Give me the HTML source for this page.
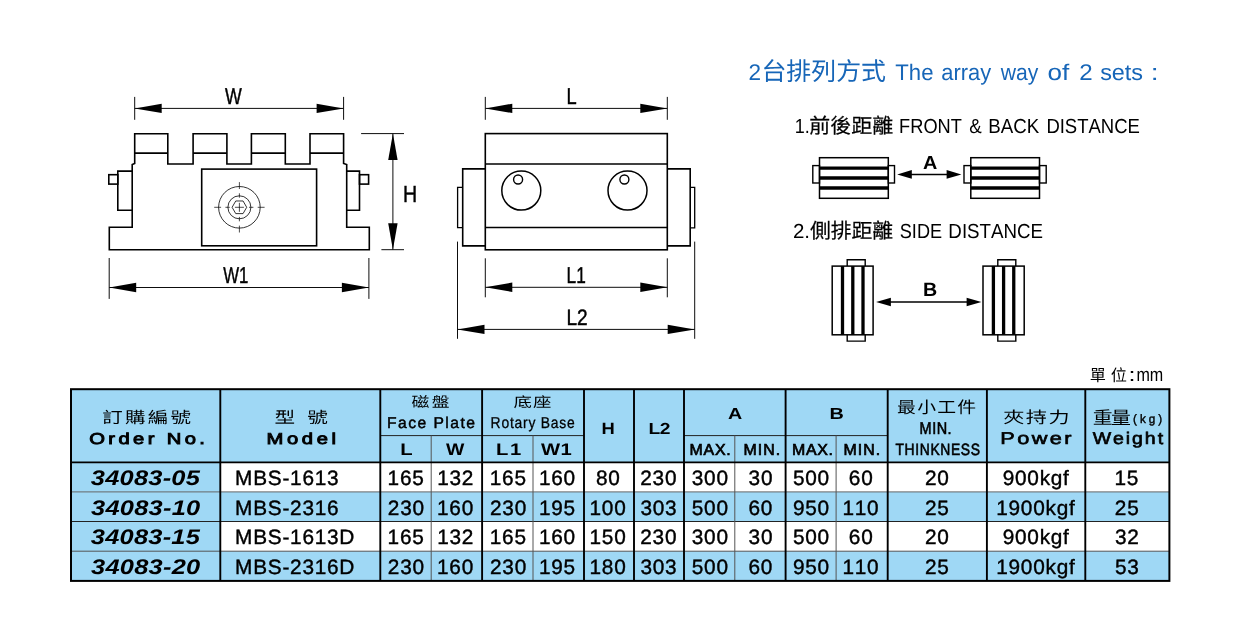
<!DOCTYPE html>
<html lang="zh-Hant">
<head>
<meta charset="utf-8">
<title>MBS Magnetic Base Specification</title>
<style>
html,body{margin:0;padding:0;background:#fff;}
body{width:1240px;height:640px;overflow:hidden;font-family:"Liberation Sans","Noto Sans CJK TC",sans-serif;}
svg{will-change:transform;}
svg text{white-space:pre;font-kerning:none;text-rendering:geometricPrecision;}
</style>
</head>
<body>
<svg width="1240" height="640" viewBox="0 0 1240 640" style="display:block">
<rect width="1240" height="640" fill="#fff"/>
<g id="table">
<rect x="71.00" y="389.20" width="1098.40" height="73.20" fill="#9fd8f5"/>
<rect x="71.00" y="462.40" width="149.30" height="118.50" fill="#9fd8f5"/>
<rect x="71.00" y="491.90" width="1098.40" height="29.60" fill="#9fd8f5"/>
<rect x="71.00" y="551.20" width="1098.40" height="29.70" fill="#9fd8f5"/>
<line x1="71.00" y1="491.90" x2="1169.40" y2="491.90" stroke="#666" stroke-width="1.0" />
<line x1="71.00" y1="521.50" x2="1169.40" y2="521.50" stroke="#222" stroke-width="1.0" />
<line x1="71.00" y1="551.20" x2="1169.40" y2="551.20" stroke="#555" stroke-width="1.0" />
<line x1="380.30" y1="435.60" x2="584.00" y2="435.60" stroke="#222" stroke-width="1.0" />
<line x1="684.00" y1="435.60" x2="887.70" y2="435.60" stroke="#222" stroke-width="1.0" />
<line x1="431.20" y1="435.60" x2="431.20" y2="580.90" stroke="#555" stroke-width="1.0" />
<line x1="533.00" y1="435.60" x2="533.00" y2="580.90" stroke="#555" stroke-width="1.0" />
<line x1="734.80" y1="435.60" x2="734.80" y2="580.90" stroke="#555" stroke-width="1.0" />
<line x1="836.10" y1="435.60" x2="836.10" y2="580.90" stroke="#555" stroke-width="1.0" />
<line x1="220.30" y1="389.20" x2="220.30" y2="580.90" stroke="#000" stroke-width="1.9" />
<line x1="380.30" y1="389.20" x2="380.30" y2="580.90" stroke="#000" stroke-width="1.9" />
<line x1="482.10" y1="389.20" x2="482.10" y2="580.90" stroke="#000" stroke-width="1.9" />
<line x1="584.00" y1="389.20" x2="584.00" y2="580.90" stroke="#000" stroke-width="1.9" />
<line x1="634.00" y1="389.20" x2="634.00" y2="580.90" stroke="#000" stroke-width="1.9" />
<line x1="684.00" y1="389.20" x2="684.00" y2="580.90" stroke="#000" stroke-width="1.9" />
<line x1="785.60" y1="389.20" x2="785.60" y2="580.90" stroke="#000" stroke-width="1.9" />
<line x1="887.70" y1="389.20" x2="887.70" y2="580.90" stroke="#000" stroke-width="1.9" />
<line x1="986.90" y1="389.20" x2="986.90" y2="580.90" stroke="#000" stroke-width="1.9" />
<line x1="1085.30" y1="389.20" x2="1085.30" y2="580.90" stroke="#000" stroke-width="1.9" />
<line x1="71.00" y1="462.40" x2="1169.40" y2="462.40" stroke="#000" stroke-width="1.9" />
<rect x="71.00" y="389.20" width="1098.40" height="191.70" stroke="#000" stroke-width="2.0" fill="none"/>
<text transform="translate(102.24 423.12) scale(1.3000 1)" font-family="'Liberation Sans','Noto Sans CJK TC',sans-serif" font-size="15.78" letter-spacing="1.709">訂購編號</text>
<text transform="translate(89.29 444.00) scale(1.2800 1)" font-family="'Liberation Sans',sans-serif" font-size="15.77" letter-spacing="2.635" stroke="#000" stroke-width="0.9">Order No.</text>
<text transform="translate(274.53 423.12) scale(1.3000 1)" font-family="'Liberation Sans','Noto Sans CJK TC',sans-serif" font-size="15.85" letter-spacing="2.468">型 號</text>
<text transform="translate(266.49 444.00) scale(1.2800 1)" font-family="'Liberation Sans',sans-serif" font-size="15.77" letter-spacing="2.857" stroke="#000" stroke-width="0.9">Model</text>
<text transform="translate(411.44 407.30) scale(1.2500 1)" font-family="'Liberation Sans','Noto Sans CJK TC',sans-serif" font-size="14.25" letter-spacing="1.930">磁盤</text>
<text x="386.94" y="428.00" font-family="'Liberation Sans',sans-serif" font-size="15.66" letter-spacing="1.463" stroke="#000" stroke-width="0.45">Face Plate</text>
<text transform="translate(513.43 407.04) scale(1.3300 1)" font-family="'Liberation Sans','Noto Sans CJK TC',sans-serif" font-size="13.86" letter-spacing="0.887">底座</text>
<text transform="translate(490.61 428.00) scale(0.8800 1)" font-family="'Liberation Sans',sans-serif" font-size="15.77" letter-spacing="0.886" stroke="#000" stroke-width="0.3">Rotary Base</text>
<text transform="translate(400.14 455.00) scale(1.2019 1)" font-family="'Liberation Sans',sans-serif" font-size="16.86" font-weight="bold">L</text>
<text transform="translate(446.08 455.00) scale(1.1523 1)" font-family="'Liberation Sans',sans-serif" font-size="16.86" font-weight="bold">W</text>
<text transform="translate(496.05 455.00) scale(1.2000 1)" font-family="'Liberation Sans',sans-serif" font-size="16.86" font-weight="bold" letter-spacing="1.421">L1</text>
<text transform="translate(540.98 455.00) scale(1.2000 1)" font-family="'Liberation Sans',sans-serif" font-size="16.86" font-weight="bold" letter-spacing="0.445">W1</text>
<text transform="translate(601.47 433.50) scale(1.1285 1)" font-family="'Liberation Sans',sans-serif" font-size="16.28" font-weight="bold">H</text>
<text transform="translate(648.51 433.50) scale(1.2000 1)" font-family="'Liberation Sans',sans-serif" font-size="16.04" font-weight="bold" letter-spacing="-0.420">L2</text>
<text transform="translate(727.91 418.70) scale(1.2306 1)" font-family="'Liberation Sans',sans-serif" font-size="15.99" font-weight="bold">A</text>
<text transform="translate(829.47 418.70) scale(1.2409 1)" font-family="'Liberation Sans',sans-serif" font-size="15.99" font-weight="bold">B</text>
<text x="689.54" y="454.70" font-family="'Liberation Sans',sans-serif" font-size="15.92" letter-spacing="0.782" stroke="#000" stroke-width="0.7">MAX.</text>
<text x="743.54" y="454.70" font-family="'Liberation Sans',sans-serif" font-size="15.92" letter-spacing="1.054" stroke="#000" stroke-width="0.7">MIN.</text>
<text x="791.94" y="454.70" font-family="'Liberation Sans',sans-serif" font-size="15.92" letter-spacing="0.716" stroke="#000" stroke-width="0.7">MAX.</text>
<text x="843.54" y="454.70" font-family="'Liberation Sans',sans-serif" font-size="15.92" letter-spacing="1.054" stroke="#000" stroke-width="0.7">MIN.</text>
<text transform="translate(897.07 413.39) scale(1.1500 1)" font-family="'Liberation Sans','Noto Sans CJK TC',sans-serif" font-size="16.37" letter-spacing="1.103">最小工件</text>
<text transform="translate(919.61 434.00) scale(0.8500 1)" font-family="'Liberation Sans',sans-serif" font-size="17.01" letter-spacing="0.586" stroke="#000" stroke-width="0.6">MIN.</text>
<text transform="translate(895.49 455.00) scale(0.8500 1)" font-family="'Liberation Sans',sans-serif" font-size="16.33" letter-spacing="0.739" stroke="#000" stroke-width="0.6">THINKNESS</text>
<text transform="translate(1003.15 423.33) scale(1.3000 1)" font-family="'Liberation Sans','Noto Sans CJK TC',sans-serif" font-size="16.25" letter-spacing="1.204">夾持力</text>
<text transform="translate(1000.24 444.00) scale(1.2800 1)" font-family="'Liberation Sans',sans-serif" font-size="16.97" letter-spacing="1.919" stroke="#000" stroke-width="0.65">Power</text>
<text transform="translate(1092.76 424.02) scale(1.1200 1)" font-family="'Liberation Sans','Noto Sans CJK TC',sans-serif" font-size="17.77" letter-spacing="-1.500">重量</text>
<text transform="translate(1132.98 422.50) scale(0.9500 1)" font-family="'Liberation Sans',sans-serif" font-size="12.30" letter-spacing="3.202" stroke="#000" stroke-width="0.4">(kg)</text>
<text transform="translate(1092.74 444.00) scale(1.1500 1)" font-family="'Liberation Sans',sans-serif" font-size="16.97" letter-spacing="1.677" stroke="#000" stroke-width="0.65">Weight</text>
<text x="1089.66" y="381.21" font-family="'Liberation Sans','Noto Sans CJK TC',sans-serif" font-size="16.18" letter-spacing="4.904">單位</text>
<text transform="translate(1128.60 380.60) scale(1.3266 1)" font-family="'Liberation Sans',sans-serif" font-size="19.00">:</text>
<text transform="translate(1136.43 380.60) scale(0.8476 1)" font-family="'Liberation Sans',sans-serif" font-size="19.00">mm</text>
<text transform="translate(90.76 485.00) scale(1.2000 1)" font-family="'Liberation Sans',sans-serif" font-size="21.20" font-weight="bold" font-style="italic" letter-spacing="0.200">34083-05</text>
<text x="235.09" y="485.00" font-family="'Liberation Sans',sans-serif" font-size="20.80" letter-spacing="0.750" stroke="#000" stroke-width="0.4">MBS-1613</text>
<text x="387.59" y="485.00" font-family="'Liberation Sans',sans-serif" font-size="20.80" letter-spacing="0.750" stroke="#000" stroke-width="0.4">165</text>
<text x="437.18" y="485.00" font-family="'Liberation Sans',sans-serif" font-size="20.80" letter-spacing="0.750" stroke="#000" stroke-width="0.4">132</text>
<text x="489.79" y="485.00" font-family="'Liberation Sans',sans-serif" font-size="20.80" letter-spacing="0.750" stroke="#000" stroke-width="0.4">165</text>
<text x="538.96" y="485.00" font-family="'Liberation Sans',sans-serif" font-size="20.80" letter-spacing="0.750" stroke="#000" stroke-width="0.4">160</text>
<text x="596.01" y="485.00" font-family="'Liberation Sans',sans-serif" font-size="20.80" letter-spacing="0.750" stroke="#000" stroke-width="0.4">80</text>
<text x="640.28" y="485.00" font-family="'Liberation Sans',sans-serif" font-size="20.80" letter-spacing="0.750" stroke="#000" stroke-width="0.4">230</text>
<text x="691.81" y="485.00" font-family="'Liberation Sans',sans-serif" font-size="20.80" letter-spacing="0.750" stroke="#000" stroke-width="0.4">300</text>
<text x="748.57" y="485.00" font-family="'Liberation Sans',sans-serif" font-size="20.80" letter-spacing="0.750" stroke="#000" stroke-width="0.4">30</text>
<text x="792.99" y="485.00" font-family="'Liberation Sans',sans-serif" font-size="20.80" letter-spacing="0.750" stroke="#000" stroke-width="0.4">500</text>
<text x="848.84" y="485.00" font-family="'Liberation Sans',sans-serif" font-size="20.80" letter-spacing="0.750" stroke="#000" stroke-width="0.4">60</text>
<text x="924.94" y="485.00" font-family="'Liberation Sans',sans-serif" font-size="20.80" letter-spacing="0.750" stroke="#000" stroke-width="0.4">20</text>
<text x="1002.70" y="485.00" font-family="'Liberation Sans',sans-serif" font-size="20.80" letter-spacing="0.750" stroke="#000" stroke-width="0.4">900kgf</text>
<text x="1114.55" y="485.00" font-family="'Liberation Sans',sans-serif" font-size="20.80" letter-spacing="0.750" stroke="#000" stroke-width="0.4">15</text>
<text transform="translate(91.03 515.00) scale(1.2000 1)" font-family="'Liberation Sans',sans-serif" font-size="21.20" font-weight="bold" font-style="italic" letter-spacing="0.200">34083-10</text>
<text x="235.09" y="515.00" font-family="'Liberation Sans',sans-serif" font-size="20.80" letter-spacing="0.750" stroke="#000" stroke-width="0.4">MBS-2316</text>
<text x="387.83" y="515.00" font-family="'Liberation Sans',sans-serif" font-size="20.80" letter-spacing="0.750" stroke="#000" stroke-width="0.4">230</text>
<text x="437.06" y="515.00" font-family="'Liberation Sans',sans-serif" font-size="20.80" letter-spacing="0.750" stroke="#000" stroke-width="0.4">160</text>
<text x="490.03" y="515.00" font-family="'Liberation Sans',sans-serif" font-size="20.80" letter-spacing="0.750" stroke="#000" stroke-width="0.4">230</text>
<text x="538.99" y="515.00" font-family="'Liberation Sans',sans-serif" font-size="20.80" letter-spacing="0.750" stroke="#000" stroke-width="0.4">195</text>
<text x="589.51" y="515.00" font-family="'Liberation Sans',sans-serif" font-size="20.80" letter-spacing="0.750" stroke="#000" stroke-width="0.4">100</text>
<text x="640.46" y="515.00" font-family="'Liberation Sans',sans-serif" font-size="20.80" letter-spacing="0.750" stroke="#000" stroke-width="0.4">303</text>
<text x="691.79" y="515.00" font-family="'Liberation Sans',sans-serif" font-size="20.80" letter-spacing="0.750" stroke="#000" stroke-width="0.4">500</text>
<text x="748.44" y="515.00" font-family="'Liberation Sans',sans-serif" font-size="20.80" letter-spacing="0.750" stroke="#000" stroke-width="0.4">60</text>
<text x="792.92" y="515.00" font-family="'Liberation Sans',sans-serif" font-size="20.80" letter-spacing="0.750" stroke="#000" stroke-width="0.4">950</text>
<text x="842.41" y="515.00" font-family="'Liberation Sans',sans-serif" font-size="20.80" letter-spacing="0.750" stroke="#000" stroke-width="0.4">110</text>
<text x="924.97" y="515.00" font-family="'Liberation Sans',sans-serif" font-size="20.80" letter-spacing="0.750" stroke="#000" stroke-width="0.4">25</text>
<text x="996.23" y="515.00" font-family="'Liberation Sans',sans-serif" font-size="20.80" letter-spacing="0.750" stroke="#000" stroke-width="0.4">1900kgf</text>
<text x="1114.82" y="515.00" font-family="'Liberation Sans',sans-serif" font-size="20.80" letter-spacing="0.750" stroke="#000" stroke-width="0.4">25</text>
<text transform="translate(90.76 544.00) scale(1.2000 1)" font-family="'Liberation Sans',sans-serif" font-size="21.20" font-weight="bold" font-style="italic" letter-spacing="0.200">34083-15</text>
<text x="235.09" y="544.00" font-family="'Liberation Sans',sans-serif" font-size="20.80" letter-spacing="0.750" stroke="#000" stroke-width="0.4">MBS-1613D</text>
<text x="387.59" y="544.00" font-family="'Liberation Sans',sans-serif" font-size="20.80" letter-spacing="0.750" stroke="#000" stroke-width="0.4">165</text>
<text x="437.18" y="544.00" font-family="'Liberation Sans',sans-serif" font-size="20.80" letter-spacing="0.750" stroke="#000" stroke-width="0.4">132</text>
<text x="489.79" y="544.00" font-family="'Liberation Sans',sans-serif" font-size="20.80" letter-spacing="0.750" stroke="#000" stroke-width="0.4">165</text>
<text x="538.96" y="544.00" font-family="'Liberation Sans',sans-serif" font-size="20.80" letter-spacing="0.750" stroke="#000" stroke-width="0.4">160</text>
<text x="589.51" y="544.00" font-family="'Liberation Sans',sans-serif" font-size="20.80" letter-spacing="0.750" stroke="#000" stroke-width="0.4">150</text>
<text x="640.28" y="544.00" font-family="'Liberation Sans',sans-serif" font-size="20.80" letter-spacing="0.750" stroke="#000" stroke-width="0.4">230</text>
<text x="691.81" y="544.00" font-family="'Liberation Sans',sans-serif" font-size="20.80" letter-spacing="0.750" stroke="#000" stroke-width="0.4">300</text>
<text x="748.57" y="544.00" font-family="'Liberation Sans',sans-serif" font-size="20.80" letter-spacing="0.750" stroke="#000" stroke-width="0.4">30</text>
<text x="792.99" y="544.00" font-family="'Liberation Sans',sans-serif" font-size="20.80" letter-spacing="0.750" stroke="#000" stroke-width="0.4">500</text>
<text x="848.84" y="544.00" font-family="'Liberation Sans',sans-serif" font-size="20.80" letter-spacing="0.750" stroke="#000" stroke-width="0.4">60</text>
<text x="924.94" y="544.00" font-family="'Liberation Sans',sans-serif" font-size="20.80" letter-spacing="0.750" stroke="#000" stroke-width="0.4">20</text>
<text x="1002.70" y="544.00" font-family="'Liberation Sans',sans-serif" font-size="20.80" letter-spacing="0.750" stroke="#000" stroke-width="0.4">900kgf</text>
<text x="1115.03" y="544.00" font-family="'Liberation Sans',sans-serif" font-size="20.80" letter-spacing="0.750" stroke="#000" stroke-width="0.4">32</text>
<text transform="translate(91.03 574.00) scale(1.2000 1)" font-family="'Liberation Sans',sans-serif" font-size="21.20" font-weight="bold" font-style="italic" letter-spacing="0.200">34083-20</text>
<text x="235.09" y="574.00" font-family="'Liberation Sans',sans-serif" font-size="20.80" letter-spacing="0.750" stroke="#000" stroke-width="0.4">MBS-2316D</text>
<text x="387.83" y="574.00" font-family="'Liberation Sans',sans-serif" font-size="20.80" letter-spacing="0.750" stroke="#000" stroke-width="0.4">230</text>
<text x="437.06" y="574.00" font-family="'Liberation Sans',sans-serif" font-size="20.80" letter-spacing="0.750" stroke="#000" stroke-width="0.4">160</text>
<text x="490.03" y="574.00" font-family="'Liberation Sans',sans-serif" font-size="20.80" letter-spacing="0.750" stroke="#000" stroke-width="0.4">230</text>
<text x="538.99" y="574.00" font-family="'Liberation Sans',sans-serif" font-size="20.80" letter-spacing="0.750" stroke="#000" stroke-width="0.4">195</text>
<text x="589.51" y="574.00" font-family="'Liberation Sans',sans-serif" font-size="20.80" letter-spacing="0.750" stroke="#000" stroke-width="0.4">180</text>
<text x="640.46" y="574.00" font-family="'Liberation Sans',sans-serif" font-size="20.80" letter-spacing="0.750" stroke="#000" stroke-width="0.4">303</text>
<text x="691.79" y="574.00" font-family="'Liberation Sans',sans-serif" font-size="20.80" letter-spacing="0.750" stroke="#000" stroke-width="0.4">500</text>
<text x="748.44" y="574.00" font-family="'Liberation Sans',sans-serif" font-size="20.80" letter-spacing="0.750" stroke="#000" stroke-width="0.4">60</text>
<text x="792.92" y="574.00" font-family="'Liberation Sans',sans-serif" font-size="20.80" letter-spacing="0.750" stroke="#000" stroke-width="0.4">950</text>
<text x="842.41" y="574.00" font-family="'Liberation Sans',sans-serif" font-size="20.80" letter-spacing="0.750" stroke="#000" stroke-width="0.4">110</text>
<text x="924.97" y="574.00" font-family="'Liberation Sans',sans-serif" font-size="20.80" letter-spacing="0.750" stroke="#000" stroke-width="0.4">25</text>
<text x="996.23" y="574.00" font-family="'Liberation Sans',sans-serif" font-size="20.80" letter-spacing="0.750" stroke="#000" stroke-width="0.4">1900kgf</text>
<text x="1114.95" y="574.00" font-family="'Liberation Sans',sans-serif" font-size="20.80" letter-spacing="0.750" stroke="#000" stroke-width="0.4">53</text>
</g>
<g id="front-view">
<line x1="134.70" y1="96.90" x2="134.70" y2="119.80" stroke="#0d0d0d" stroke-width="1.0" />
<line x1="343.60" y1="96.90" x2="343.60" y2="119.80" stroke="#0d0d0d" stroke-width="1.0" />
<line x1="134.70" y1="108.40" x2="343.60" y2="108.40" stroke="#0d0d0d" stroke-width="1.0" />
<path d="M134.70 108.40 L161.70 103.70 L161.70 113.10 Z" fill="#000"/>
<path d="M343.60 108.40 L316.60 113.10 L316.60 103.70 Z" fill="#000"/>
<path d="M109.30 249.70 L109.30 227.30 L132.20 227.30 L132.20 164.60 L134.70 163.40 L134.70 133.70 L167.80 133.70 L167.80 164.00 L193.10 164.00 L193.10 133.70 L226.90 133.70 L226.90 164.00 L251.40 164.00 L251.40 133.70 L285.30 133.70 L285.30 164.00 L310.00 164.00 L310.00 133.70 L343.60 133.70 L343.60 163.40 L346.70 164.60 L346.70 227.30 L369.30 227.30 L369.30 249.70 Z" stroke="#000" stroke-width="1.6" fill="none" stroke-linejoin="miter"/>
<line x1="134.70" y1="153.10" x2="167.80" y2="153.10" stroke="#000" stroke-width="1.6" />
<line x1="193.10" y1="153.10" x2="226.90" y2="153.10" stroke="#000" stroke-width="1.6" />
<line x1="251.40" y1="153.10" x2="285.30" y2="153.10" stroke="#000" stroke-width="1.6" />
<line x1="310.00" y1="153.10" x2="343.60" y2="153.10" stroke="#000" stroke-width="1.6" />
<path d="M132.20 171.10 L117.80 171.10 L117.80 210.20 L132.20 210.20" stroke="#000" stroke-width="1.6" fill="none" stroke-linejoin="miter"/>
<rect x="108.80" y="174.70" width="9.00" height="9.40" stroke="#000" stroke-width="1.6" fill="none"/>
<path d="M346.70 171.10 L359.50 171.10 L359.50 210.20 L346.70 210.20" stroke="#000" stroke-width="1.6" fill="none" stroke-linejoin="miter"/>
<rect x="359.50" y="174.70" width="9.10" height="9.40" stroke="#000" stroke-width="1.6" fill="none"/>
<rect x="201.70" y="169.10" width="114.90" height="76.70" stroke="#000" stroke-width="1.6" fill="none"/>
<circle cx="239.40" cy="207.30" r="20.80" stroke="#000" stroke-width="0.8" fill="none"/>
<circle cx="239.40" cy="207.30" r="11.50" stroke="#000" stroke-width="0.8" fill="none"/>
<path d="M246.70 207.30 L243.05 213.62 L235.75 213.62 L232.10 207.30 L235.75 200.98 L243.05 200.98 Z" stroke="#000" stroke-width="0.8" fill="none" stroke-linejoin="miter"/>
<line x1="214.20" y1="207.30" x2="221.10" y2="207.30" stroke="#000" stroke-width="0.7" />
<line x1="239.40" y1="182.10" x2="239.40" y2="189.00" stroke="#000" stroke-width="0.7" />
<line x1="225.40" y1="207.30" x2="229.80" y2="207.30" stroke="#000" stroke-width="0.7" />
<line x1="239.40" y1="193.30" x2="239.40" y2="197.70" stroke="#000" stroke-width="0.7" />
<line x1="234.90" y1="207.30" x2="243.90" y2="207.30" stroke="#000" stroke-width="0.7" />
<line x1="239.40" y1="202.80" x2="239.40" y2="211.80" stroke="#000" stroke-width="0.7" />
<line x1="249.00" y1="207.30" x2="253.40" y2="207.30" stroke="#000" stroke-width="0.7" />
<line x1="239.40" y1="216.90" x2="239.40" y2="221.30" stroke="#000" stroke-width="0.7" />
<line x1="257.70" y1="207.30" x2="264.60" y2="207.30" stroke="#000" stroke-width="0.7" />
<line x1="239.40" y1="225.60" x2="239.40" y2="232.50" stroke="#000" stroke-width="0.7" />
<line x1="361.10" y1="133.60" x2="404.00" y2="133.60" stroke="#0d0d0d" stroke-width="1.0" />
<line x1="381.40" y1="249.70" x2="404.00" y2="249.70" stroke="#0d0d0d" stroke-width="1.0" />
<line x1="392.90" y1="133.60" x2="392.90" y2="249.70" stroke="#0d0d0d" stroke-width="1.0" />
<path d="M392.90 133.60 L397.60 160.10 L388.20 160.10 Z" fill="#000"/>
<path d="M392.90 249.70 L388.20 223.20 L397.60 223.20 Z" fill="#000"/>
<line x1="109.20" y1="258.00" x2="109.20" y2="298.90" stroke="#0d0d0d" stroke-width="1.0" />
<line x1="368.90" y1="258.00" x2="368.90" y2="298.90" stroke="#0d0d0d" stroke-width="1.0" />
<line x1="109.20" y1="287.50" x2="368.90" y2="287.50" stroke="#0d0d0d" stroke-width="1.0" />
<path d="M109.20 287.50 L136.20 282.80 L136.20 292.20 Z" fill="#000"/>
<path d="M368.90 287.50 L341.90 292.20 L341.90 282.80 Z" fill="#000"/>
<text transform="translate(224.95 104.00) scale(0.7758 1)" font-family="'Liberation Sans',sans-serif" font-size="22.93" stroke="#000" stroke-width="0.45">W</text>
<text transform="translate(402.92 202.00) scale(0.8442 1)" font-family="'Liberation Sans',sans-serif" font-size="23.22" stroke="#000" stroke-width="0.45">H</text>
<text transform="translate(223.25 283.00) scale(0.7310 1)" font-family="'Liberation Sans',sans-serif" font-size="22.93" stroke="#000" stroke-width="0.45">W1</text>
</g>
<g id="side-view">
<line x1="485.30" y1="96.90" x2="485.30" y2="119.80" stroke="#0d0d0d" stroke-width="1.0" />
<line x1="667.30" y1="96.90" x2="667.30" y2="119.80" stroke="#0d0d0d" stroke-width="1.0" />
<line x1="485.30" y1="108.40" x2="667.30" y2="108.40" stroke="#0d0d0d" stroke-width="1.0" />
<path d="M485.30 108.40 L512.30 103.70 L512.30 113.10 Z" fill="#000"/>
<path d="M667.30 108.40 L640.30 113.10 L640.30 103.70 Z" fill="#000"/>
<rect x="485.30" y="133.60" width="182.00" height="116.20" stroke="#000" stroke-width="1.6" fill="none"/>
<line x1="485.30" y1="164.00" x2="667.30" y2="164.00" stroke="#000" stroke-width="1.6" />
<line x1="485.30" y1="227.50" x2="667.30" y2="227.50" stroke="#000" stroke-width="1.6" />
<path d="M485.30 168.90 L462.70 168.90 L462.70 245.90 L485.30 245.90" stroke="#000" stroke-width="1.6" fill="none" stroke-linejoin="miter"/>
<path d="M462.70 187.30 L457.60 187.30 L457.60 227.60 L462.70 227.60" stroke="#000" stroke-width="1.3" fill="none" stroke-linejoin="miter"/>
<path d="M667.30 168.90 L690.20 168.90 L690.20 245.90 L667.30 245.90" stroke="#000" stroke-width="1.6" fill="none" stroke-linejoin="miter"/>
<path d="M690.20 187.30 L694.70 187.30 L694.70 227.80 L690.20 227.80" stroke="#000" stroke-width="1.3" fill="none" stroke-linejoin="miter"/>
<circle cx="521.30" cy="190.60" r="19.50" stroke="#000" stroke-width="1.5" fill="none"/>
<circle cx="518.10" cy="179.50" r="4.50" stroke="#000" stroke-width="1.4" fill="none"/>
<circle cx="627.50" cy="190.60" r="19.50" stroke="#000" stroke-width="1.5" fill="none"/>
<circle cx="624.40" cy="179.50" r="4.50" stroke="#000" stroke-width="1.4" fill="none"/>
<line x1="485.30" y1="258.30" x2="485.30" y2="297.30" stroke="#0d0d0d" stroke-width="1.0" />
<line x1="667.30" y1="258.30" x2="667.30" y2="297.30" stroke="#0d0d0d" stroke-width="1.0" />
<line x1="485.30" y1="287.30" x2="667.30" y2="287.30" stroke="#0d0d0d" stroke-width="1.0" />
<path d="M485.30 287.30 L512.30 282.60 L512.30 292.00 Z" fill="#000"/>
<path d="M667.30 287.30 L640.30 292.00 L640.30 282.60 Z" fill="#000"/>
<line x1="457.50" y1="241.60" x2="457.50" y2="338.80" stroke="#0d0d0d" stroke-width="1.0" />
<line x1="694.70" y1="241.60" x2="694.70" y2="338.80" stroke="#0d0d0d" stroke-width="1.0" />
<line x1="457.50" y1="329.40" x2="694.70" y2="329.40" stroke="#0d0d0d" stroke-width="1.0" />
<path d="M457.50 329.40 L484.50 324.70 L484.50 334.10 Z" fill="#000"/>
<path d="M694.70 329.40 L667.70 334.10 L667.70 324.70 Z" fill="#000"/>
<text transform="translate(566.53 104.00) scale(0.7963 1)" font-family="'Liberation Sans',sans-serif" font-size="22.93" stroke="#000" stroke-width="0.45">L</text>
<text transform="translate(566.61 283.00) scale(0.7532 1)" font-family="'Liberation Sans',sans-serif" font-size="22.93" stroke="#000" stroke-width="0.45">L1</text>
<text transform="translate(566.46 325.00) scale(0.8532 1)" font-family="'Liberation Sans',sans-serif" font-size="22.31" stroke="#000" stroke-width="0.45">L2</text>
</g>
<g id="array">
<text y="80.00" font-family="'Liberation Sans',sans-serif" font-size="22.60" fill="#1766b8"><tspan x="748.56" textLength="12.57" lengthAdjust="spacingAndGlyphs">2</tspan></text>
<text transform="translate(761.38 80.25) scale(1.0069 1)" font-family="'Liberation Sans','Noto Sans CJK TC',sans-serif" font-size="24.76" fill="#1766b8">台排列方式</text>
<text y="80.00" font-family="'Liberation Sans',sans-serif" font-size="22.60" fill="#1766b8"><tspan x="895.30" textLength="38.18" lengthAdjust="spacingAndGlyphs">The</tspan> <tspan x="941.37" textLength="49.87" lengthAdjust="spacingAndGlyphs">array</tspan> <tspan x="1000.63" textLength="37.61" lengthAdjust="spacingAndGlyphs">way</tspan> <tspan x="1047.40" textLength="21.76" lengthAdjust="spacingAndGlyphs">of</tspan> <tspan x="1079.19" textLength="13.43" lengthAdjust="spacingAndGlyphs">2</tspan> <tspan x="1100.15" textLength="42.90" lengthAdjust="spacingAndGlyphs">sets</tspan> <tspan x="1150.68" textLength="7.85" lengthAdjust="spacingAndGlyphs">:</tspan></text>
<text y="133.00" font-family="'Liberation Sans',sans-serif" font-size="20.30"><tspan x="794.83" textLength="15.02" lengthAdjust="spacingAndGlyphs">1.</tspan></text>
<text transform="translate(809.34 133.29) scale(1.0189 1)" font-family="'Liberation Sans','Noto Sans CJK TC',sans-serif" font-size="20.58" stroke="#000" stroke-width="0.2">前後距離</text>
<text y="133.00" font-family="'Liberation Sans',sans-serif" font-size="20.30"><tspan x="899.11" textLength="62.71" lengthAdjust="spacingAndGlyphs">FRONT</tspan> <tspan x="969.24" textLength="12.45" lengthAdjust="spacingAndGlyphs">&amp;</tspan> <tspan x="988.27" textLength="50.94" lengthAdjust="spacingAndGlyphs">BACK</tspan> <tspan x="1046.38" textLength="93.51" lengthAdjust="spacingAndGlyphs">DISTANCE</tspan></text>
<text y="238.00" font-family="'Liberation Sans',sans-serif" font-size="20.30"><tspan x="792.97" textLength="17.10" lengthAdjust="spacingAndGlyphs">2.</tspan></text>
<text transform="translate(809.93 238.33) scale(1.0073 1)" font-family="'Liberation Sans','Noto Sans CJK TC',sans-serif" font-size="20.67" stroke="#000" stroke-width="0.2">側排距離</text>
<text y="238.00" font-family="'Liberation Sans',sans-serif" font-size="20.30"><tspan x="899.78" textLength="42.30" lengthAdjust="spacingAndGlyphs">SIDE</tspan> <tspan x="948.36" textLength="94.64" lengthAdjust="spacingAndGlyphs">DISTANCE</tspan></text>
<rect x="819.50" y="157.70" width="68.80" height="40.60" stroke="#000" stroke-width="1.5" fill="none"/>
<line x1="819.50" y1="168.10" x2="888.30" y2="168.10" stroke="#000" stroke-width="3.3" />
<line x1="819.50" y1="178.00" x2="888.30" y2="178.00" stroke="#000" stroke-width="3.3" />
<line x1="819.50" y1="188.00" x2="888.30" y2="188.00" stroke="#000" stroke-width="3.3" />
<rect x="970.80" y="157.70" width="68.70" height="40.60" stroke="#000" stroke-width="1.5" fill="none"/>
<line x1="970.80" y1="168.10" x2="1039.50" y2="168.10" stroke="#000" stroke-width="3.3" />
<line x1="970.80" y1="178.00" x2="1039.50" y2="178.00" stroke="#000" stroke-width="3.3" />
<line x1="970.80" y1="188.00" x2="1039.50" y2="188.00" stroke="#000" stroke-width="3.3" />
<rect x="812.80" y="165.60" width="6.70" height="17.40" stroke="#000" stroke-width="1.4" fill="none"/>
<rect x="888.30" y="165.60" width="6.20" height="17.40" stroke="#000" stroke-width="1.4" fill="none"/>
<rect x="964.00" y="165.60" width="6.80" height="17.40" stroke="#000" stroke-width="1.4" fill="none"/>
<rect x="1039.50" y="165.60" width="6.70" height="17.40" stroke="#000" stroke-width="1.4" fill="none"/>
<line x1="905.00" y1="174.40" x2="953.00" y2="174.40" stroke="#000" stroke-width="1.5" />
<path d="M897.20 174.40 L911.80 170.10 L911.80 178.70 Z" fill="#000"/>
<path d="M961.40 174.40 L946.60 178.70 L946.60 170.10 Z" fill="#000"/>
<text transform="translate(922.91 168.60) scale(1.0491 1)" font-family="'Liberation Sans',sans-serif" font-size="18.90" font-weight="bold">A</text>
<rect x="832.20" y="266.10" width="40.90" height="68.70" stroke="#000" stroke-width="1.5" fill="none"/>
<line x1="842.50" y1="266.10" x2="842.50" y2="334.80" stroke="#000" stroke-width="3.3" />
<line x1="852.80" y1="266.10" x2="852.80" y2="334.80" stroke="#000" stroke-width="3.3" />
<line x1="863.00" y1="266.10" x2="863.00" y2="334.80" stroke="#000" stroke-width="3.3" />
<path d="M847.20 266.10 L847.20 259.70 L865.20 259.70 L865.20 266.10" stroke="#000" stroke-width="1.4" fill="none" stroke-linejoin="miter"/>
<path d="M847.20 334.80 L847.20 341.10 L865.20 341.10 L865.20 334.80" stroke="#000" stroke-width="1.4" fill="none" stroke-linejoin="miter"/>
<rect x="983.00" y="266.10" width="41.20" height="68.70" stroke="#000" stroke-width="1.5" fill="none"/>
<line x1="993.40" y1="266.10" x2="993.40" y2="334.80" stroke="#000" stroke-width="3.3" />
<line x1="1003.60" y1="266.10" x2="1003.60" y2="334.80" stroke="#000" stroke-width="3.3" />
<line x1="1013.75" y1="266.10" x2="1013.75" y2="334.80" stroke="#000" stroke-width="3.3" />
<path d="M997.80 266.10 L997.80 259.70 L1015.80 259.70 L1015.80 266.10" stroke="#000" stroke-width="1.4" fill="none" stroke-linejoin="miter"/>
<path d="M997.80 334.80 L997.80 341.10 L1015.80 341.10 L1015.80 334.80" stroke="#000" stroke-width="1.4" fill="none" stroke-linejoin="miter"/>
<line x1="884.00" y1="302.00" x2="974.00" y2="302.00" stroke="#000" stroke-width="1.5" />
<path d="M876.10 302.00 L890.90 297.70 L890.90 306.30 Z" fill="#000"/>
<path d="M981.40 302.00 L966.60 306.30 L966.60 297.70 Z" fill="#000"/>
<text transform="translate(922.88 295.80) scale(1.0255 1)" font-family="'Liberation Sans',sans-serif" font-size="19.19" font-weight="bold">B</text>
</g>
</svg>
</body>
</html>
